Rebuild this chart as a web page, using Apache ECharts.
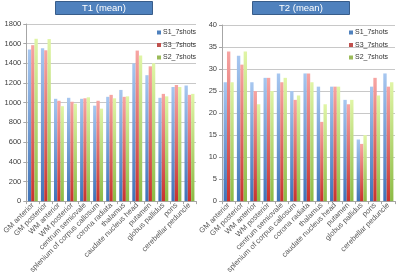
<!DOCTYPE html>
<html><head><meta charset="utf-8">
<script src="https://cdn.jsdelivr.net/npm/echarts@6/dist/echarts.min.js"></script>
<style>html,body{margin:0;padding:0;background:#fff}#c{width:400px;height:276px}</style>
</head><body><div id="c"></div>
<script>
const categories = ["GM anterior","GM posterior","WM anterior","WM posterior","centrum semiovale","splenium of corpus callosum","corona radiata","thalamus","caudate nucleus head","putamen","globus pallidus","pons","cerebellar peduncle"];
const seriesNames = ["S1_7shots","S3_7shots","S2_7shots"];
const t1_S1 = [1540,1553,1040,1050,1040,970,1060,1130,1400,1280,1050,1160,1175];
const t1_S3 = [1585,1533,1020,1010,1045,1020,1080,1060,1530,1370,1090,1180,1080];
const t1_S2 = [1650,1647,965,990,1055,940,1045,1065,1480,1400,1065,1160,1090];
const t2_S1 = [27,33,27,28,29,25,29,26,26,23,14,26,29];
const t2_S3 = [34,31,25,28,27,23,29,18,26,22,13,28,26];
const t2_S2 = [27,34,22,25,28,24,27,22,26,23,15,24,27];
const t1Ticks = {min:0,max:1800,interval:200};
const t2Ticks = {min:0,max:40,interval:5};

const grads = [
  ['#a7c7f0','#3f73b8'],
  ['#f7a5a3','#c8322e'],
  ['#e0f5a6','#8cba45']
];
function grad(i){return new echarts.graphic.LinearGradient(0,0,0,1,[{offset:0,color:grads[i][0]},{offset:1,color:grads[i][1]}]);}
const legendColors = ['#4f81bd','#c0504d','#9bbb59'];

const chart = echarts.init(document.getElementById('c'));
function xAxis(gi){return {type:'category',gridIndex:gi,data:categories,
  axisLine:{lineStyle:{color:'#a6a6a6'}},axisTick:{show:true,length:3,lineStyle:{color:'#a6a6a6'}},
  axisLabel:{rotate:45,fontSize:7.5,color:'#595959',margin:3,interval:0,fontFamily:'Liberation Sans'}};}
function yAxis(gi,t){return {type:'value',gridIndex:gi,min:t.min,max:t.max,interval:t.interval,
  axisLine:{show:true,lineStyle:{color:'#a6a6a6'}},axisTick:{show:true,length:3,lineStyle:{color:'#a6a6a6'}},
  axisLabel:{fontSize:7.5,color:'#404040',margin:5,fontFamily:'Liberation Sans',formatter:v=>String(v)},
  splitLine:{lineStyle:{color:'#c8c8c8'}}};}
const data = [[t1_S1,t1_S3,t1_S2],[t2_S1,t2_S3,t2_S2]];
const series = [];
for(let g=0;g<2;g++){for(let i=0;i<3;i++){series.push({type:'bar',name:seriesNames[i],xAxisIndex:g,yAxisIndex:g,data:data[g][i],
  barGap:'0%',barCategoryGap:'24%',itemStyle:{color:grad(i)},emphasis:{disabled:true}});}}
const titleStyle = {color:'#fff',fontSize:9.5,fontWeight:'normal',fontFamily:'Liberation Sans'};
function legend(left){return {left:left,top:24,orient:'vertical',itemWidth:4,itemHeight:4,itemGap:5.5,icon:'rect',
  data:seriesNames.map((n,i)=>({name:n,itemStyle:{color:legendColors[i]}})),
  textStyle:{fontSize:7,color:'#333',fontFamily:'Liberation Sans',padding:[0,0,0,-3]}};}
chart.setOption({
  animation:false,
  title:[
    {text:'T1 (mean)',left:55,top:1,backgroundColor:'#4f81bd',borderColor:'#385d8a',borderWidth:1,padding:[2,27,2,27],textStyle:titleStyle},
    {text:'T2 (mean)',left:252,top:1,backgroundColor:'#4f81bd',borderColor:'#385d8a',borderWidth:1,padding:[2,27,2,27],textStyle:titleStyle}
  ],
  legend:[legend(152),legend(344)],
  grid:[{left:23,top:24,width:173,height:181},{left:222,top:25,width:173,height:178}],
  xAxis:[xAxis(0),xAxis(1)],
  yAxis:[yAxis(0,t1Ticks),yAxis(1,t2Ticks)],
  series:series
});
</script></body></html>
